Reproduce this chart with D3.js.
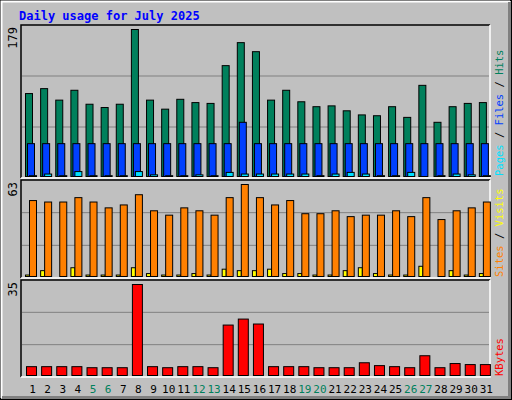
<!DOCTYPE html>
<html><head><meta charset="utf-8">
<script src="https://cdn.jsdelivr.net/npm/d3@7"></script>
<style>body{margin:0;background:#fff}</style>
</head><body><div id="chart"></div>
<script>
var days = d3.range(1, 32);
var weekend = [5, 6, 12, 13, 19, 20, 26, 27];
var hits = [101,107,93,105,88,84,88,179,93,82,94,90,89,135,163,152,93,105,91,85,86,80,75,74,85,72,111,66,85,89,90];
var files = [40,40,40,40,40,40,40,40,40,40,40,40,40,40,66,40,40,40,40,40,40,40,40,40,40,40,40,40,40,40,40];
var pages = [1,3,1,6,1,1,1,6,2,1,1,2,1,5,3,3,3,3,3,1,3,5,3,1,1,5,0,1,3,2,1];
var visits = [1,4,0,6,1,1,1,6,2,1,1,2,1,5,4,4,5,2,2,1,1,4,6,2,1,1,7,0,4,1,2];
var sites = [52,51,51,54,51,47,49,56,45,42,47,45,42,54,63,54,49,52,43,43,45,41,42,42,45,41,54,39,45,47,51];
var kbytes = [3.4,3.4,3.4,3.4,3.0,3.0,3.0,35,3.4,3.0,3.4,3.4,3.0,19.4,21.7,19.8,3.4,3.4,3.4,3.0,3.0,3.0,4.9,3.8,3.4,3.0,7.6,3.0,4.6,4.2,4.2];

var W = 512, H = 400, L = 21, R = 490;
var svg = d3.select("#chart").append("svg").attr("width", W).attr("height", H)
  .style("font-family", "DejaVu Sans Mono, monospace");

// frame with bevel
svg.append("rect").attr("x", 0.5).attr("y", 0.5).attr("width", W - 1).attr("height", H - 1).attr("fill", "#c0c0c0").attr("stroke", "#000");
svg.append("path").attr("d", "M1.5,398 V1.5 H510").attr("stroke", "#fff").attr("stroke-width", 2).attr("fill", "none");
svg.append("path").attr("d", "M2,397.5 H509.5 V2").attr("stroke", "#808080").attr("stroke-width", 3).attr("fill", "none");

svg.append("text").attr("x", 19).attr("y", 20).attr("fill", "#0000ff").attr("font-weight", "bold")
  .attr("font-size", 12).text("Daily usage for July 2025");

var x = d3.scaleBand().domain(days).range([L + 4, R + 4]);

function panel(y0, y1, top, max, label) {
  svg.append("path").attr("d", "M" + L + "," + y1 + " V" + y0 + " H" + R).attr("stroke", "#000").attr("stroke-width", 1.5).attr("fill", "none");
  svg.append("path").attr("d", "M" + L + "," + y1 + " H" + R + " V" + y0).attr("stroke", "#fff").attr("stroke-width", 1.5).attr("fill", "none");
  var y = d3.scaleLinear().domain([0, max]).range([y1 - 2, top]);
  var h = y1 - y0;
  [1, 2].forEach(function(k) {
    svg.append("line").attr("x1", L + 1).attr("x2", R - 1)
      .attr("y1", y0 + h * k / 3).attr("y2", y0 + h * k / 3).attr("stroke", "#808080");
  });
  svg.append("text").attr("transform", "translate(17," + (y0 + 2) + ") rotate(-90)")
    .attr("text-anchor", "end").attr("font-size", 12).attr("fill", "#000").text(label);
  return y;
}

function bars(y, data, off, w, color) {
  svg.append("g").selectAll("rect").data(data).enter().append("rect")
    .attr("x", function(d, i) { return x(days[i]) + off + 0.5; })
    .attr("y", function(d) { return y(d) + 0.5; })
    .attr("width", w)
    .attr("height", function(d) { return Math.max(0, y(0) - y(d)); })
    .attr("fill", color).attr("stroke", "#000");
}

var y1 = panel(25, 178, 29, 179, "179");
bars(y1, hits, 0, 7, "#00805c");
bars(y1, files, 2, 7, "#0040ff");
bars(y1, pages, 4, 7, "#00e0ff");

var y2 = panel(180, 278, 184, 63, "63");
bars(y2, visits, 0, 4, "#ffff00");
bars(y2, sites, 4, 7, "#ff8000");

var y3 = panel(280, 377, 284, 35, "35");
bars(y3, kbytes, 1, 10, "#ff0000");

// day labels
svg.append("g").selectAll("text").data(days).enter().append("text")
  .attr("x", function(d) { return x(d) + 7.5; }).attr("y", 393)
  .attr("text-anchor", "middle").attr("font-size", 11)
  .attr("fill", function(d) { return weekend.indexOf(d) >= 0 ? "#00805c" : "#000"; })
  .text(function(d) { return d; });

// right-side legends
function legend(yb, parts) {
  var t = svg.append("text").attr("transform", "translate(503," + yb + ") rotate(-90)")
    .attr("font-size", 10.5).attr("xml:space", "preserve");
  parts.forEach(function(p) { t.append("tspan").attr("fill", p[1]).text(p[0]); });
}
legend(176, [["Pages", "#00e0ff"], [" / ", "#000"], ["Files", "#0040ff"], [" / ", "#000"], ["Hits", "#00805c"]]);
legend(277, [["Sites", "#ff8000"], [" / ", "#000"], ["Visits", "#ffff00"]]);
legend(376, [["KBytes", "#ff0000"]]);
</script>
</body></html>
